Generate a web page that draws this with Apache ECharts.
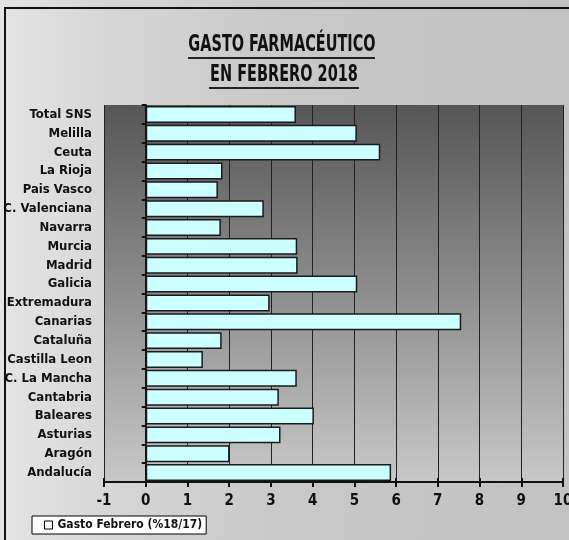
<!DOCTYPE html>
<html>
<head>
<meta charset="utf-8">
<script src="https://cdn.jsdelivr.net/npm/echarts@6/dist/echarts.min.js"></script>
<style>
html,body{margin:0;padding:0;background:#fff;}
#c{width:569px;height:540px;}
</style>
</head>
<body>
<div id="c"></div>
<script>
const titleLines = ['GASTO FARMACÉUTICO', 'EN FEBRERO 2018'];
const seriesName = 'Gasto Febrero (%18/17)';
const categories = ['Total SNS','Melilla','Ceuta','La Rioja','Pais Vasco','C. Valenciana','Navarra','Murcia','Madrid','Galicia','Extremadura','Canarias','Cataluña','Castilla Leon','C. La Mancha','Cantabria','Baleares','Asturias','Aragón','Andalucía'];
const values = [3.6, 5.06, 5.62, 1.84, 1.73, 2.83, 1.80, 3.63, 3.64, 5.07, 2.97, 7.56, 1.82, 1.37, 3.62, 3.19, 4.03, 3.23, 2.01, 5.88];
const xMin = -1, xMax = 10, xStep = 1;

const FONT = "'Liberation Sans Narrow','Arial Narrow','DejaVu Sans Condensed','Liberation Sans',sans-serif";
const chart = echarts.init(document.getElementById('c'), null, {renderer:'canvas'});
chart.setOption({
  animation:false,
  backgroundColor:{type:'linear',x:0,y:0,x2:1,y2:0,colorStops:[{offset:0,color:'#e4e4e4'},{offset:0.2,color:'#d6d6d6'},{offset:0.5,color:'#c8c8c8'},{offset:1,color:'#c2c2c2'}]},
  graphic:[
    {type:'rect',shape:{x:5,y:8,width:600,height:600},style:{fill:'none',stroke:'#111',lineWidth:2},silent:true},
    {type:'text',x:282,y:45,scaleX:0.7,style:{text:titleLines[0],x:0,y:0,align:'center',verticalAlign:'middle',font:"bold 23px 'DejaVu Sans Condensed','Liberation Sans',sans-serif",fill:'#111'}},
    {type:'text',x:284,y:75,scaleX:0.7,style:{text:titleLines[1],x:0,y:0,align:'center',verticalAlign:'middle',font:"bold 23px 'DejaVu Sans Condensed','Liberation Sans',sans-serif",fill:'#111'}},
    {type:'line',shape:{x1:188,y1:58,x2:375,y2:58},style:{stroke:'#222',lineWidth:2}},
    {type:'line',shape:{x1:209,y1:88,x2:359,y2:88},style:{stroke:'#222',lineWidth:2}}
  ],
  legend:{left:32,top:516,backgroundColor:'#fff',borderColor:'#000',borderWidth:1,borderRadius:0,padding:[3,4,3,12],
    icon:'rect',itemWidth:8,itemHeight:8,
    textStyle:{fontFamily:FONT,fontWeight:'bold',fontSize:12,color:'#111'},
    data:[{name:seriesName,itemStyle:{color:'#fff',borderColor:'#000',borderWidth:1}}]},
  grid:{left:104,right:6,top:105,bottom:58,show:true,borderWidth:0,containLabel:false,outerBoundsMode:'none',
    backgroundColor:{type:'linear',x:0,y:0,x2:0,y2:1,colorStops:[{offset:0,color:'#565656'},{offset:0.5,color:'#8e8e8e'},{offset:1,color:'#c8c8c8'}]}},
  xAxis:[{type:'value',min:xMin,max:xMax,interval:xStep,position:'bottom',
    axisLine:{show:true,onZero:false,lineStyle:{color:'#111',width:2}},
    axisTick:{show:true,length:5,lineStyle:{color:'#111',width:2}},
    axisLabel:{fontFamily:FONT,fontWeight:'bold',fontSize:15,color:'#111',margin:12},
    splitLine:{show:true,lineStyle:{color:'#222',width:1}}},
   {type:'value',min:xMin,max:xMax,interval:xStep,position:'bottom',
    axisLine:{show:false},axisTick:{show:true,inside:true,length:4,lineStyle:{color:'#111',width:2}},
    axisLabel:{show:false},splitLine:{show:false}}],
  yAxis:{type:'category',data:categories,inverse:true,
    axisLine:{show:true,onZero:true,lineStyle:{color:'#111',width:2}},
    axisTick:{show:true,length:4,lineStyle:{color:'#111',width:2}},
    axisLabel:{interval:0,fontFamily:FONT,fontWeight:'bold',fontSize:13,color:'#111',margin:12},
    splitLine:{show:false}},
  series:[{name:seriesName,type:'bar',data:values,barCategoryGap:'10%',
    itemStyle:{color:'#ccffff',borderColor:'#1a1a1a',borderWidth:1.5}}]
});
</script>
</body>
</html>
